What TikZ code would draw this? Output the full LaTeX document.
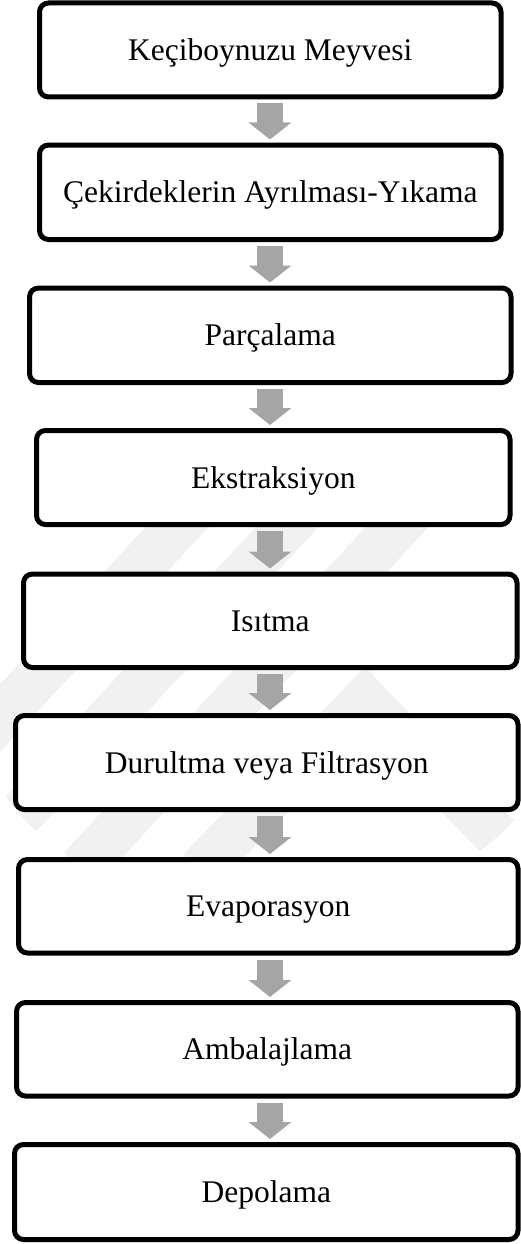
\documentclass[tikz,border=0pt]{standalone}
\usepackage{fontspec}
\setmainfont{Liberation Serif}
\usetikzlibrary{arrows.meta}
\definecolor{arrowgray}{HTML}{A5A5A5}
\definecolor{markgray}{HTML}{F1F1F1}
\tikzset{
  stepbox/.style={draw=black, line width=5pt, rounded corners=9pt, fill=white,
    font=\fontsize{31.5}{36}\selectfont, text height=21pt, text depth=0pt,
    inner sep=0pt, align=center},
  flowarrow/.style={draw=arrowgray, line width=26pt,
    -{Triangle[width=42pt,length=17pt]}},
  markband/.style={draw=markgray, line width=46pt, line cap=butt}
}
\begin{document}
\begin{tikzpicture}[x=1pt,y=-1pt]
  \useasboundingbox (0,0) rectangle (521,1244);
  % faint background emblem
  \begin{scope}
    \clip (270,690) ellipse [x radius=300pt, y radius=225pt];
    \draw[markband] (-150,880) -- (230,470);
    \draw[markband] (-40,880) -- (340,470);
    \draw[markband] (70,880) -- (450,470);
    \draw[markband] (200,870) -- (365,700) -- (535,875);
  \end{scope}
  % centre line of the flow
  \coordinate (axis) at (270,0);
  % process steps
  \node[stepbox, minimum width=461.5pt, minimum height=94pt] (b1) at (270.25,50) {Keçiboynuzu Meyvesi};
  \node[stepbox, minimum width=461.5pt, minimum height=94.5pt] (b2) at (270.25,192.25) {Çekirdeklerin Ayrılması-Yıkama};
  \node[stepbox, minimum width=481.5pt, minimum height=94.5pt] (b3) at (270.25,335.25) {Parçalama};
  \node[stepbox, minimum width=473.5pt, minimum height=94pt] (b4) at (273.25,477.5) {Ekstraksiyon};
  \node[stepbox, minimum width=493.5pt, minimum height=93.5pt] (b5) at (270.25,620.75) {Isıtma};
  \node[stepbox, minimum width=502.5pt, minimum height=94pt] (b6) at (266.75,762.5) {Durultma veya Filtrasyon};
  \node[stepbox, minimum width=499.5pt, minimum height=93.5pt] (b7) at (268.25,906.25) {Evaporasyon};
  \node[stepbox, minimum width=501.5pt, minimum height=93.5pt] (b8) at (267.25,1049.25) {Ambalajlama};
  \node[stepbox, minimum width=503.5pt, minimum height=95pt] (b9) at (266.25,1192) {Depolama};
  % arrows between steps
  \foreach \a/\b in {b1/b2,b2/b3,b3/b4,b4/b5,b5/b6,b6/b7,b7/b8,b8/b9}{
    \draw[flowarrow] ([yshift=-4pt]\a.south -| axis) -- ([yshift=3pt]\b.north -| axis);
  }
\end{tikzpicture}
\end{document}
